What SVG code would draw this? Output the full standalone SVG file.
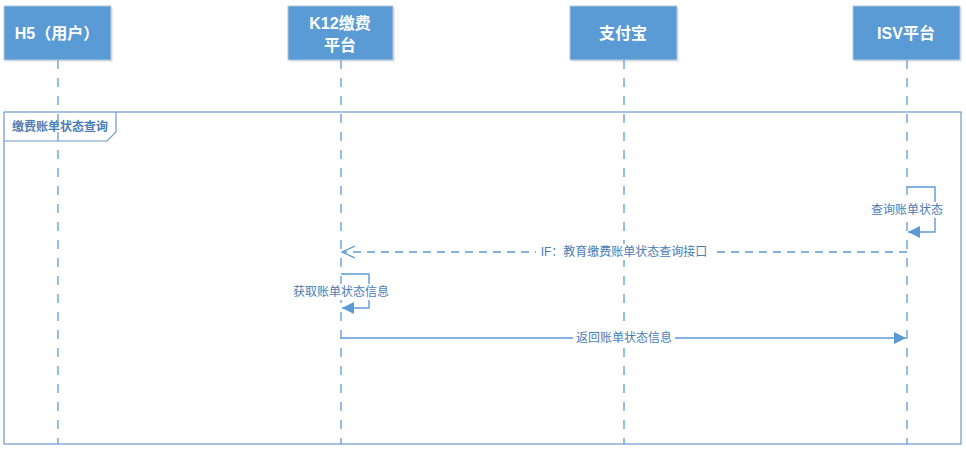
<svg xmlns="http://www.w3.org/2000/svg" width="966" height="449" viewBox="0 0 966 449">
<defs>
<style>
.box{fill:#5B9BD5;stroke:#B4C7DC;stroke-width:1}
.shadow{fill:#000;opacity:0.08}
.hdr{font-family:"Liberation Sans","Noto Sans CJK SC",sans-serif;font-size:16px;font-weight:bold;fill:#fff;text-anchor:middle}
.life{stroke:#5B9BD5;stroke-width:1.3;stroke-dasharray:9,9;fill:none}
.msg{stroke:#5B9BD5;stroke-width:1.4;fill:none}
.dmsg{stroke:#5B9BD5;stroke-width:1.3;fill:none;stroke-dasharray:8,6}
.lbl{font-family:"Liberation Sans","Noto Sans CJK SC",sans-serif;font-size:12px;fill:#4A7DB5;text-anchor:middle}
.frame{fill:none;stroke:#6D9ACB;stroke-width:1.2}
</style>
<marker id="fill" viewBox="0 0 12 12" refX="12" refY="6" markerWidth="12" markerHeight="12" markerUnits="userSpaceOnUse" orient="auto">
<path d="M0,0 L12,6 L0,12 z" fill="#5B9BD5"/>
</marker>
<marker id="open" viewBox="0 0 14 14" refX="13" refY="7" markerWidth="14" markerHeight="14" markerUnits="userSpaceOnUse" orient="auto">
<path d="M0,1 L13,7 L0,13" fill="none" stroke="#5B9BD5" stroke-width="1.3"/>
</marker>
</defs>
<rect width="966" height="449" fill="#fff"/>

<g id="frame">
<rect class="frame" x="4" y="112" width="957" height="332"/>
<path class="frame" d="M4,141 H107 L116,132 V112"/>
<text x="60" y="131" font-family="Liberation Sans,Noto Sans CJK SC,sans-serif" font-size="12" font-weight="bold" fill="#4A7DB5" text-anchor="middle">缴费账单状态查询</text>
</g>

<g id="lifelines">
<line class="life" x1="58" y1="60" x2="58" y2="444"/>
<line class="life" x1="341" y1="60" x2="341" y2="444"/>
<line class="life" x1="624" y1="60" x2="624" y2="444"/>
<line class="life" x1="907" y1="60" x2="907" y2="444"/>
</g>

<g id="node-h5">
<rect class="shadow" x="6" y="8" width="107" height="54"/>
<rect class="box" x="4" y="6" width="107" height="54"/>
<text class="hdr" x="57" y="39">H5（用户）</text>
</g>
<g id="node-k12">
<rect class="shadow" x="290" y="8" width="105" height="54"/>
<rect class="box" x="288" y="6" width="105" height="54"/>
<text class="hdr" x="340" y="29">K12缴费</text>
<text class="hdr" x="340" y="51">平台</text>
</g>
<g id="node-alipay">
<rect class="shadow" x="572" y="8" width="107" height="54"/>
<rect class="box" x="570" y="6" width="107" height="54"/>
<text class="hdr" x="623" y="39">支付宝</text>
</g>
<g id="node-isv">
<rect class="shadow" x="855" y="8" width="107" height="54"/>
<rect class="box" x="853" y="6" width="107" height="54"/>
<text class="hdr" x="906" y="39">ISV平台</text>
</g>

<g id="connectors">
<path class="msg" d="M907,187 H935 V232 H908" marker-end="url(#fill)"/>
<rect x="867" y="202" width="80" height="16" fill="#fff"/>
<text class="lbl" x="907" y="214">查询账单状态</text>

<line class="dmsg" x1="907" y1="252" x2="342" y2="252" marker-end="url(#open)"/>
<rect x="536" y="244" width="176" height="16" fill="#fff"/>
<text class="lbl" x="624" y="256">IF：教育缴费账单状态查询接口</text>

<path class="msg" d="M341,274 H369 V308 H342" marker-end="url(#fill)"/>
<rect x="290" y="284" width="102" height="16" fill="#fff"/>
<text class="lbl" x="341" y="296">获取账单状态信息</text>

<line class="msg" x1="341" y1="338" x2="906" y2="338" marker-end="url(#fill)"/>
<rect x="573" y="330" width="102" height="16" fill="#fff"/>
<text class="lbl" x="624" y="342">返回账单状态信息</text>
</g>
</svg>
